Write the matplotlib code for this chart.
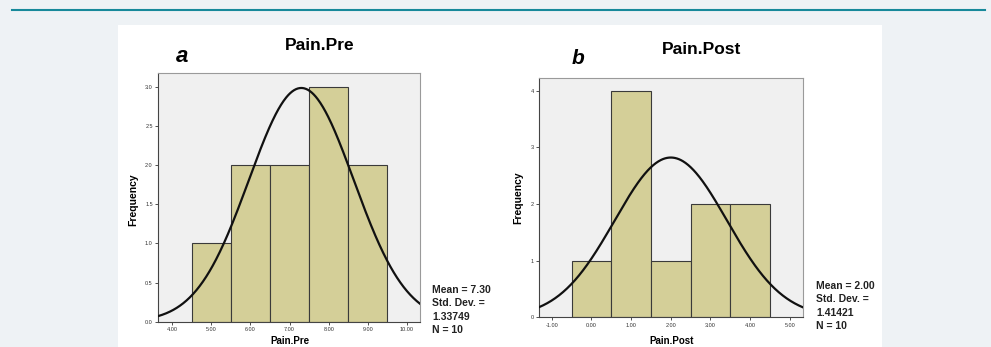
import numpy as np
import matplotlib.pyplot as plt
from matplotlib.patches import Rectangle

# datos de los histogramas
pre_centros = [5.0, 6.0, 7.0, 8.0, 9.0]
pre_frec = [1, 2, 2, 3, 2]
pre_media, pre_sd, pre_n = 7.30, 1.33749, 10

post_centros = [0.0, 1.0, 2.0, 3.0, 4.0]
post_frec = [1, 4, 1, 2, 2]
post_media, post_sd, post_n = 2.00, 1.41421, 10

W, H = 991, 347
fig = plt.figure(figsize=(W / 100, H / 100), dpi=100, facecolor='#eef2f5')
plt.rcParams['font.family'] = ['Liberation Sans', 'DejaVu Sans']


def fx(x):
    return x / W


def fy(y):
    return 1 - y / H


# panel blanco y linea superior
fig.patches.append(Rectangle((fx(118), 0), fx(882) - fx(118), fy(25), transform=fig.transFigure,
                             facecolor='white', edgecolor='none', zorder=-5))
fig.add_artist(plt.Line2D([fx(12), fx(985)], [fy(10), fy(10)], color='#17899a', lw=1.5))


def histograma(rect, centros, frec, media, sd, n, xlim, ylim, xticks, yticks, yfmt):
    ax = fig.add_axes(rect)
    ax.set_zorder(2)
    ax.set_facecolor('#f0f0f0')
    ax.bar(centros, frec, width=1.0, color='#d4cf98', edgecolor='#3a3a3a', linewidth=0.8, zorder=2)
    xs = np.linspace(xlim[0], xlim[1], 400)
    ys = n * 1.0 / (sd * np.sqrt(2 * np.pi)) * np.exp(-0.5 * ((xs - media) / sd) ** 2)
    ax.plot(xs, ys, color='#111111', lw=1.6, zorder=3)
    ax.set_xlim(*xlim)
    ax.set_ylim(*ylim)
    ax.set_xticks(xticks)
    ax.set_xticklabels(['%.2f' % t for t in xticks])
    ax.set_yticks(yticks)
    ax.set_yticklabels([yfmt % t for t in yticks])
    ax.tick_params(labelsize=4, length=2.5, width=0.6, pad=1.5, colors='#333333')
    for s in ax.spines.values():
        s.set_color('#9a9a9a')
        s.set_linewidth(0.8)
    ax.spines['left'].set_color('#444444')
    ax.spines['bottom'].set_color('#444444')
    return ax


histograma([fx(158.3), fy(321.7), fx(420) - fx(158.3), fy(73.3) - fy(321.7)],
           pre_centros, pre_frec, pre_media, pre_sd, pre_n,
           (3.65, 10.33), (0, 3.17), [4, 5, 6, 7, 8, 9, 10], [0, 0.5, 1, 1.5, 2, 2.5, 3], '%.1f')
histograma([fx(539.3), fy(317.3), fx(803.3) - fx(539.3), fy(78.3) - fy(317.3)],
           post_centros, post_frec, post_media, post_sd, post_n,
           (-1.315, 5.34), (0, 4.22), [-1, 0, 1, 2, 3, 4, 5], [0, 1, 2, 3, 4], '%d')

# titulos y etiquetas
fig.text(fx(320), fy(45), 'Pain.Pre', fontsize=12.5, fontweight='bold', ha='center', va='center')
fig.text(fx(702), fy(50), 'Pain.Post', fontsize=12.5, fontweight='bold', ha='center', va='center')
fig.text(fx(182), fy(57), 'a', fontsize=16, fontweight='bold', style='italic', ha='center', va='center')
fig.text(fx(578), fy(58), 'b', fontsize=15, fontweight='bold', style='italic', ha='center', va='center')

fig.text(fx(133), fy(200), 'Frequency', fontsize=7.5, fontweight='bold', rotation=90, ha='center', va='center')
fig.text(fx(518), fy(198), 'Frequency', fontsize=7.5, fontweight='bold', rotation=90, ha='center', va='center')
fig.text(fx(290), fy(341), 'Pain.Pre', fontsize=7, fontweight='bold', ha='center', va='center')
fig.text(fx(672), fy(341), 'Pain.Post', fontsize=7, fontweight='bold', ha='center', va='center')

# estadisticos
est_pre = ['Mean = %.2f' % pre_media, 'Std. Dev. =', '%.5f' % pre_sd, 'N = %d' % pre_n]
est_post = ['Mean = %.2f' % post_media, 'Std. Dev. =', '%.5f' % post_sd, 'N = %d' % post_n]
for i, t in enumerate(est_pre):
    fig.text(fx(432), fy(290 + 13.3 * i), t, fontsize=7.5, fontweight='bold', color='#222222', va='center')
for i, t in enumerate(est_post):
    fig.text(fx(816), fy(286 + 13.3 * i), t, fontsize=7.5, fontweight='bold', color='#222222', va='center')

fig.savefig('out.png', dpi=100, facecolor=fig.get_facecolor())
